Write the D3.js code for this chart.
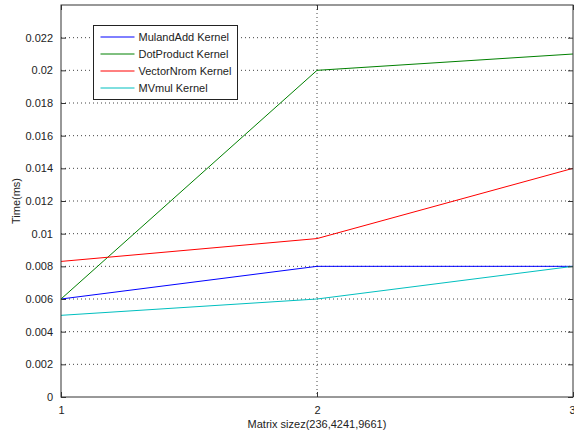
<!DOCTYPE html>
<html>
<head>
<meta charset="utf-8">
<script src="https://cdn.jsdelivr.net/npm/d3@7"></script>
<style>
  body { margin: 0; background: #fff; }
  svg text { font-family: "Liberation Sans", Arial, sans-serif; font-size: 11px; fill: #222; }
</style>
</head>
<body>
<svg id="chart" width="574" height="435"></svg>
<script>
// values
const sizes = [1, 2, 3];
const yTicks = [0, 0.002, 0.004, 0.006, 0.008, 0.01, 0.012, 0.014, 0.016, 0.018, 0.02, 0.022];
const seriesNames = ["MulandAdd Kernel", "DotProduct Kernel", "VectorNrom Kernel", "MVmul Kernel"];
const mulandAdd = [0.006, 0.008, 0.008];
const dotProduct = [0.006, 0.020, 0.021];
const vectorNrom = [0.0083, 0.0097, 0.014];
const mvMul = [0.005, 0.006, 0.008];
const colors = ["#0000ff", "#008000", "#ff0000", "#00bfbf"];

const series = [mulandAdd, dotProduct, vectorNrom, mvMul];

let margin = { top: 5, right: 1, bottom: 38, left: 61 };
let width = 574 - margin.left - margin.right;
let height = 435 - margin.top - margin.bottom;

let svg = d3.select("#chart");
let main = svg.append("g")
    .attr("transform", `translate(${margin.left},${margin.top})`);

let x = d3.scaleLinear().domain([1, 3]).range([0, width]);
let y = d3.scaleLinear().domain([0, 0.024]).range([height, 0]);

// grid
main.append("g")
    .selectAll("line")
    .data(yTicks.slice(1))
    .enter()
    .append("line")
    .attr("x1", 0).attr("x2", width)
    .attr("y1", d => y(d)).attr("y2", d => y(d))
    .attr("stroke", "#444").attr("stroke-dasharray", "1,3");

main.append("line")
    .attr("x1", x(2)).attr("x2", x(2))
    .attr("y1", 0).attr("y2", height)
    .attr("stroke", "#444").attr("stroke-dasharray", "1,3");

// lines
let line = d3.line().x((d, i) => x(sizes[i])).y(d => y(d));
main.append("g")
    .selectAll("path")
    .data(series)
    .enter()
    .append("path")
    .attr("d", d => line(d))
    .attr("fill", "none")
    .attr("stroke", (d, i) => colors[i])
    .attr("stroke-width", 1);

// axes (ticks inward, mirrored)
let axisStyle = g => {
    g.select(".domain").remove();
    g.selectAll(".tick line").attr("stroke", "#333");
};
main.append("g")
    .attr("transform", `translate(0,${height})`)
    .call(d3.axisBottom(x).tickValues(sizes).tickFormat(d3.format("d")).tickSizeInner(-5).tickPadding(9))
    .call(axisStyle)
    .call(g => g.selectAll("text").attr("font-size", null).attr("font-family", null))
    // the last label sits on the page edge; keep it inside
    .call(g => g.selectAll("text").filter(d => d === 3).attr("text-anchor", "end").attr("dx", 2));
main.append("g")
    .call(d3.axisLeft(y).tickValues(yTicks).tickFormat(d => d === 0 ? "0" : d3.format("")(+d.toFixed(3))).tickSizeInner(-5).tickPadding(8))
    .call(axisStyle)
    .call(g => g.selectAll("text").attr("font-size", null).attr("font-family", null));
main.append("g")
    .call(d3.axisTop(x).tickValues(sizes).tickFormat("").tickSizeInner(-5))
    .call(axisStyle);
main.append("g")
    .attr("transform", `translate(${width},0)`)
    .call(d3.axisRight(y).tickValues(yTicks).tickFormat("").tickSizeInner(-5))
    .call(axisStyle);

main.append("rect")
    .attr("width", width).attr("height", height)
    .attr("fill", "none").attr("stroke", "#333").attr("stroke-width", 1);

// labels
svg.append("text")
    .attr("x", margin.left + width / 2)
    .attr("y", 428)
    .attr("text-anchor", "middle")
    .text("Matrix sizez(236,4241,9661)");

svg.append("text")
    .attr("transform", `translate(20,${margin.top + height / 2}) rotate(-90)`)
    .attr("text-anchor", "middle")
    .text("Time(ms)");

// legend
let legend = svg.append("g").attr("transform", "translate(93.5,25.5)");
legend.append("rect")
    .attr("width", 144).attr("height", 74)
    .attr("fill", "#fff").attr("stroke", "#222");
let items = legend.selectAll("g")
    .data(seriesNames)
    .enter()
    .append("g")
    .attr("transform", (d, i) => `translate(0,${11.5 + i * 17})`);
items.append("line")
    .attr("x1", 7).attr("x2", 41)
    .attr("stroke", (d, i) => colors[i]);
items.append("text")
    .attr("x", 45).attr("y", 4)
    .text(d => d);
</script>
</body>
</html>
